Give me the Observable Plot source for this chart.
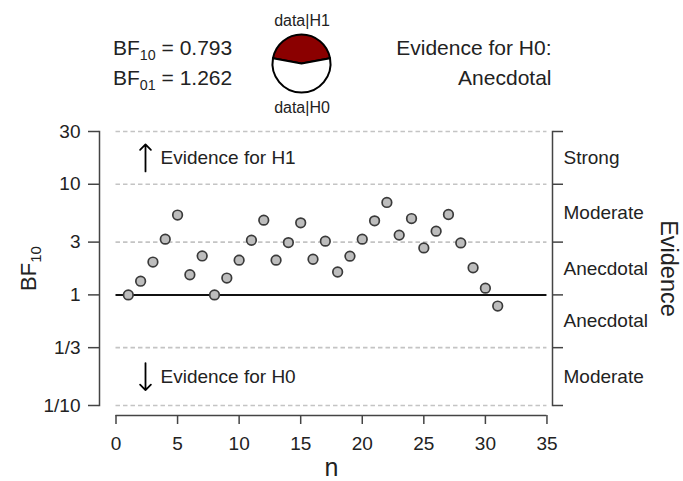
<!DOCTYPE html>
<html><head><meta charset="utf-8">
<script src="https://cdn.jsdelivr.net/npm/d3@7"></script>
<script src="https://cdn.jsdelivr.net/npm/@observablehq/plot@0.6"></script>
<style>body{margin:0;background:#fff} svg{display:block}</style>
</head><body><div id="chart"></div>
<script>
// ---- data ----
const nValues = [1,2,3,4,5,6,7,8,9,10,11,12,13,14,15,16,17,18,19,20,21,22,23,24,25,26,27,28,29,30,31];
const bf10Values = [1.00,1.33,1.98,3.19,5.27,1.52,2.25,1.00,1.42,2.06,3.12,4.74,2.06,2.97,4.48,2.10,3.06,1.61,2.24,3.19,4.67,6.85,3.47,4.90,2.66,3.77,5.33,2.95,1.76,1.15,0.793];
const yTicks = [0.1, 1/3, 1, 3, 10, 30];
const yTickLabels = ["1/10", "1/3", "1", "3", "10", "30"];
const xTicks = [0, 5, 10, 15, 20, 25, 30, 35];
const gridValues = [0.1, 1/3, 3, 10, 30];
const evidenceLabels = ["Strong", "Moderate", "Anecdotal", "Anecdotal", "Moderate"];
const evidenceLower = [10, 3, 1, 1/3, 0.1];
const evidenceUpper = [30, 10, 3, 1, 1/3];
const bf10 = 0.793;
const bf01 = 1.262;
const pieLabels = ["data|H1", "data|H0"];
const pieValues = [bf10, 1];
const pieColors = ["#8b0000", "#ffffff"];

const points = nValues.map((n, i) => ({n, bf: bf10Values[i]}));
const evidence = evidenceLabels.map((label, i) => ({label, y: Math.sqrt(evidenceLower[i] * evidenceUpper[i])}));
const yLabelOf = (d) => yTickLabels[yTicks.findIndex((t) => Math.abs(t - d) < 1e-9)] ?? "";
const font = "Liberation Sans, Arial, Helvetica, sans-serif";
const ink = "#222";
const axisInk = "#444";

// pie drawn as a custom mark
function pieMark() {
  const g = d3.create("svg:g").attr("transform", "translate(301.5,63.5)");
  const p = pieValues[0] / d3.sum(pieValues);
  const pie = d3.pie().sort(null).startAngle(-Math.PI * p).endAngle(2 * Math.PI - Math.PI * p);
  const arc = d3.arc().innerRadius(0).outerRadius(29);
  g.selectAll("path").data(pie(pieValues)).join("path")
    .attr("d", arc)
    .attr("fill", (d, i) => pieColors[i])
    .attr("stroke", "#000").attr("stroke-width", 2).attr("stroke-linejoin", "round");
  return g.node();
}

const hdr = {lineAnchor: "middle", fill: ink};

const chart = Plot.plot({
  width: 683,
  height: 481,
  marginTop: 131,
  marginBottom: 76,
  marginLeft: 99,
  marginRight: 131,
  style: {fontFamily: font, fontSize: "19px", color: ink, background: "#fff"},
  x: {domain: [-1.34, 35.45]},
  y: {type: "log", domain: [0.1, 30]},
  marks: [
    Plot.ruleY(gridValues, {x1: 0, x2: 35, stroke: "#c4c4c4", strokeWidth: 1.6, strokeDasharray: "4.5,3"}),
    Plot.ruleY([1], {x1: 0, x2: 35, stroke: "#111", strokeWidth: 2}),
    Plot.frame({anchor: "left", stroke: axisInk, strokeWidth: 1.5}),
    Plot.frame({anchor: "right", stroke: axisInk, strokeWidth: 1.5}),
    Plot.axisY({anchor: "left", ticks: yTicks, tickFormat: yLabelOf, tickSize: 11, tickPadding: 8, stroke: axisInk, strokeWidth: 1.5, fill: ink, fontSize: 19, label: null}),
    Plot.axisY({anchor: "right", ticks: yTicks, tickFormat: () => "", tickSize: 10, stroke: axisInk, strokeWidth: 1.5, label: null}),
    Plot.ruleY([0.1], {x1: xTicks[0], x2: xTicks[xTicks.length - 1], dy: 10, stroke: axisInk, strokeWidth: 1.5}),
    Plot.axisX({ticks: xTicks, tickSize: 9, tickPadding: 12, dy: 10, stroke: axisInk, strokeWidth: 1.5, fill: ink, fontSize: 19, label: null}),
    Plot.text(["n"], {x: d3.mean(d3.extent(xTicks)), frameAnchor: "bottom", dy: 62, textAnchor: "middle", lineAnchor: "middle", fontSize: 25, fill: ink}),
    Plot.text(["BF10"], {frameAnchor: "left", dx: -71, rotate: -90, textAnchor: "middle", lineAnchor: "middle", fontSize: 22, fill: ink}),
    Plot.text(evidence, {y: "y", text: "label", frameAnchor: "right", dx: 11, textAnchor: "start", lineAnchor: "middle", fontSize: 19, fill: ink}),
    Plot.text(["Evidence"], {frameAnchor: "right", dx: 116, rotate: 90, textAnchor: "middle", lineAnchor: "middle", fontSize: 23.5, fill: ink}),
    Plot.vector([Math.sqrt(300)], {y: (d) => d, frameAnchor: "left", dx: 46, length: 27, rotate: 0, anchor: "middle", shape: "arrow", stroke: "#000", strokeWidth: 1.8}),
    Plot.text(["Evidence for H1"], {y: [Math.sqrt(300)], frameAnchor: "left", dx: 61, textAnchor: "start", lineAnchor: "middle", fontSize: 19, fill: ink}),
    Plot.vector([Math.sqrt(1/30)], {y: (d) => d, frameAnchor: "left", dx: 46, length: 27, rotate: 180, anchor: "middle", shape: "arrow", stroke: "#000", strokeWidth: 1.8}),
    Plot.text(["Evidence for H0"], {y: [Math.sqrt(1/30)], frameAnchor: "left", dx: 61, textAnchor: "start", lineAnchor: "middle", fontSize: 19, fill: ink}),
    Plot.dot(points, {x: "n", y: "bf", r: 4.8, fill: "#bdbdbd", stroke: "#3a3a3a", strokeWidth: 1.7}),
    // header
    Plot.text([`BF10 = ${bf10.toFixed(3)}`], {...hdr, frameAnchor: "top-left", dx: 13.5, dy: -83, textAnchor: "start", fontSize: 21}),
    Plot.text([`BF01 = ${bf01.toFixed(3)}`], {...hdr, frameAnchor: "top-left", dx: 13.5, dy: -53, textAnchor: "start", fontSize: 21}),
    Plot.text(["Evidence for H0:"], {...hdr, frameAnchor: "top-right", dx: -1, dy: -83, textAnchor: "end", fontSize: 21}),
    Plot.text(["Anecdotal"], {...hdr, frameAnchor: "top-right", dx: -1, dy: -53, textAnchor: "end", fontSize: 21}),
    Plot.text([pieLabels[0]], {...hdr, frameAnchor: "top-left", dx: 202.5, dy: -110.5, textAnchor: "middle", fontSize: 16}),
    Plot.text([pieLabels[1]], {...hdr, frameAnchor: "top-left", dx: 202.5, dy: -24, textAnchor: "middle", fontSize: 16}),
    pieMark
  ]
});

// subscripts for BF10 / BF01
d3.select(chart).selectAll("text").each(function () {
  const t = this.textContent;
  const m = t.match(/^BF(10|01)(.*)$/);
  if (!m) return;
  const el = d3.select(this);
  el.text(null);
  el.append("tspan").text("BF");
  el.append("tspan").attr("font-size", "0.68em").attr("dy", "0.35em").text(m[1]);
  if (m[2]) el.append("tspan").attr("dy", "-0.24em").text(m[2]);
});

document.getElementById("chart").appendChild(chart);
</script>
</body></html>
